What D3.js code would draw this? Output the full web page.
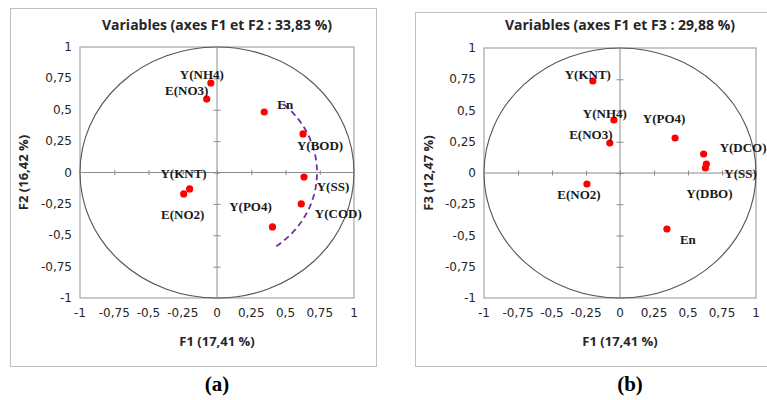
<!DOCTYPE html>
<html>
<head>
<meta charset="utf-8">
<script src="https://cdn.jsdelivr.net/npm/d3@7/dist/d3.min.js"></script>
<style>
  body { margin: 0; background: #fff; }
  svg { display: block; }
  .title { font-family: "Open Sans", sans-serif; font-weight: bold; font-size: 14px; fill: #262626; }
  .axis-title { font-family: "Open Sans", sans-serif; font-weight: bold; font-size: 13px; fill: #262626; }
  .tick-lbl { font-family: "DejaVu Sans", sans-serif; font-size: 12px; fill: #262626; }
  .pt-lbl { font-family: "Liberation Serif", serif; font-weight: bold; font-size: 13px; fill: #1a1a1a; }
  .panel-tag { font-family: "Liberation Serif", serif; font-weight: bold; font-size: 21px; fill: #000; }
</style>
</head>
<body>
<div id="chart"></div>
<script>
// ---- data ----
var ticks = [-1, -0.75, -0.5, -0.25, 0, 0.25, 0.5, 0.75, 1];
var tickLabels = ["-1", "-0,75", "-0,5", "-0,25", "0", "0,25", "0,5", "0,75", "1"];

// panel (a) : F1 x F2
var namesA = ["Y(NH4)", "E(NO3)", "En", "Y(BOD)", "Y(SS)", "Y(KNT)", "E(NO2)", "Y(PO4)", "Y(COD)"];
var f1A    = [-0.045, -0.075, 0.345, 0.628, 0.635, -0.200, -0.243, 0.405, 0.615];
var f2A    = [ 0.713,  0.585, 0.482, 0.307, -0.036, -0.131, -0.171, -0.434, -0.250];

// panel (b) : F1 x F3
var namesB = ["Y(KNT)", "Y(NH4)", "E(NO3)", "Y(PO4)", "Y(DCO)", "Y(SS)", "Y(DBO)", "E(NO2)", "En"];
var f1B    = [-0.200, -0.045, -0.075, 0.405, 0.615, 0.635, 0.628, -0.243, 0.345];
var f3B    = [ 0.736,  0.424,  0.240, 0.280, 0.152, 0.072, 0.040, -0.088, -0.448];

// dashed purple arc in panel (a) (radius, start/end angle in degrees)
var arcRadius = 0.73, arcFrom = 48, arcTo = -55;

// ---- label placement (pixel offsets from the point, anchor) ----
var offsA = {
  "Y(NH4)": [-9, -9, "middle"], "E(NO3)": [-20, -9, "middle"], "En": [21, -8, "middle"],
  "Y(BOD)": [17, 12, "middle"], "Y(SS)": [29, 9, "middle"], "Y(KNT)": [-6, -15, "middle"],
  "E(NO2)": [-1, 21, "middle"], "Y(PO4)": [-22, -20, "middle"], "Y(COD)": [37, 10, "middle"]
};
var offsB = {
  "Y(KNT)": [-5, -7, "middle"], "Y(NH4)": [-9, -7, "middle"], "E(NO3)": [-19, -9, "middle"],
  "Y(PO4)": [-11, -20, "middle"], "Y(DCO)": [16, -7, "start"], "Y(SS)": [18, 9, "start"],
  "Y(DBO)": [4, 25, "middle"], "E(NO2)": [-8, 10, "middle"], "En": [21, 10, "middle"]
};

var svg = d3.select("#chart").append("svg").attr("width", 767).attr("height", 400);

function drawPanel(cfg) {
  var g = svg.append("g");

  // outer frame
  g.append("rect")
    .attr("x", cfg.box[0] + 0.5).attr("y", cfg.box[1] + 0.5)
    .attr("width", cfg.box[2]).attr("height", cfg.box[3])
    .attr("fill", "#fff").attr("stroke", "#bfbfbf");

  var x = d3.scaleLinear().domain([-1, 1]).range([cfg.plot[0], cfg.plot[1]]);
  var y = d3.scaleLinear().domain([-1, 1]).range([cfg.plot[3], cfg.plot[2]]);

  // plot area border
  g.append("rect")
    .attr("x", x(-1)).attr("y", y(1))
    .attr("width", x(1) - x(-1)).attr("height", y(-1) - y(1))
    .attr("fill", "none").attr("stroke", "#a6a6a6").attr("stroke-width", 1.2);

  // unit circle
  g.append("ellipse")
    .attr("cx", x(0)).attr("cy", y(0))
    .attr("rx", x(1) - x(0)).attr("ry", y(0) - y(1))
    .attr("fill", "none").attr("stroke", "#555").attr("stroke-width", 1.1);

  // zero axes with cross ticks
  var xAxis = d3.axisBottom(x).tickValues(ticks).tickSize(5).tickFormat("");
  var yAxis = d3.axisLeft(y).tickValues(ticks).tickSize(7).tickFormat("");
  var gx = g.append("g").attr("transform", "translate(0," + (y(0) - 2.5) + ")").call(xAxis);
  var gy = g.append("g").attr("transform", "translate(" + (x(0) + 3.5) + ",0)").call(yAxis);
  [gx, gy].forEach(function (a) {
    a.select(".domain").remove();
    a.selectAll("line").attr("stroke", "#8c8c8c");
  });
  g.append("line").attr("x1", x(-1)).attr("x2", x(1)).attr("y1", y(0)).attr("y2", y(0))
    .attr("stroke", "#8c8c8c");
  g.append("line").attr("x1", x(0)).attr("x2", x(0)).attr("y1", y(1)).attr("y2", y(-1))
    .attr("stroke", "#8c8c8c");

  // tick labels
  g.selectAll(".xt").data(ticks).enter().append("text")
    .attr("class", "tick-lbl").attr("text-anchor", "middle")
    .attr("x", function (d) { return x(d); }).attr("y", y(-1) + 19)
    .text(function (d, i) { return tickLabels[i]; });
  g.selectAll(".yt").data(ticks).enter().append("text")
    .attr("class", "tick-lbl").attr("text-anchor", "end")
    .attr("x", x(-1) - 8).attr("y", function (d) { return y(d) + 4; })
    .text(function (d, i) { return tickLabels[i]; });

  // titles
  g.append("text").attr("class", "title").attr("text-anchor", "middle")
    .attr("x", x(0)).attr("y", 30).text(cfg.title);
  g.append("text").attr("class", "axis-title").attr("text-anchor", "middle")
    .attr("x", x(0)).attr("y", y(-1) + 48).text(cfg.xTitle);
  g.append("text").attr("class", "axis-title").attr("text-anchor", "middle")
    .attr("transform", "translate(" + (cfg.box[0] + 18) + "," + y(0) + ") rotate(-90)")
    .text(cfg.yTitle);

  if (cfg.arc) {
    var line = d3.line().x(function (a) { return x(arcRadius * Math.cos(a)); })
      .y(function (a) { return y(arcRadius * Math.sin(a)); });
    var angs = d3.range(arcFrom, arcTo - 0.5, -2).map(function (dg) { return dg * Math.PI / 180; });
    g.append("path").attr("d", line(angs))
      .attr("fill", "none").attr("stroke", "#7030a0").attr("stroke-width", 1.8)
      .attr("stroke-dasharray", "6,4");
  }

  // points
  g.selectAll(".pt").data(cfg.names).enter().append("circle")
    .attr("cx", function (d, i) { return x(cfg.xs[i]); })
    .attr("cy", function (d, i) { return y(cfg.ys[i]); })
    .attr("r", 3.6).attr("fill", "#ff0000");

  g.selectAll(".pl").data(cfg.names).enter().append("text")
    .attr("class", "pt-lbl")
    .attr("text-anchor", function (d) { return cfg.offs[d][2]; })
    .attr("x", function (d, i) { return x(cfg.xs[i]) + cfg.offs[d][0]; })
    .attr("y", function (d, i) { return y(cfg.ys[i]) + cfg.offs[d][1] + 4.5; })
    .text(function (d) { return d; });

  // panel tag
  g.append("text").attr("class", "panel-tag").attr("text-anchor", "middle")
    .attr("x", cfg.tagX).attr("y", 391).text(cfg.tag);
}

drawPanel({
  box: [10, 8, 366, 358], plot: [80, 354, 47, 298],
  title: "Variables (axes F1 et F2 : 33,83 %)", xTitle: "F1 (17,41 %)", yTitle: "F2 (16,42 %)",
  names: namesA, xs: f1A, ys: f2A, offs: offsA, arc: true, tag: "(a)", tagX: 217
});
drawPanel({
  box: [415, 12, 400, 354], plot: [484, 756, 48, 298],
  title: "Variables (axes F1 et F3 : 29,88 %)", xTitle: "F1 (17,41 %)", yTitle: "F3 (12,47 %)",
  names: namesB, xs: f1B, ys: f3B, offs: offsB, arc: false, tag: "(b)", tagX: 630
});
</script>
</body>
</html>
